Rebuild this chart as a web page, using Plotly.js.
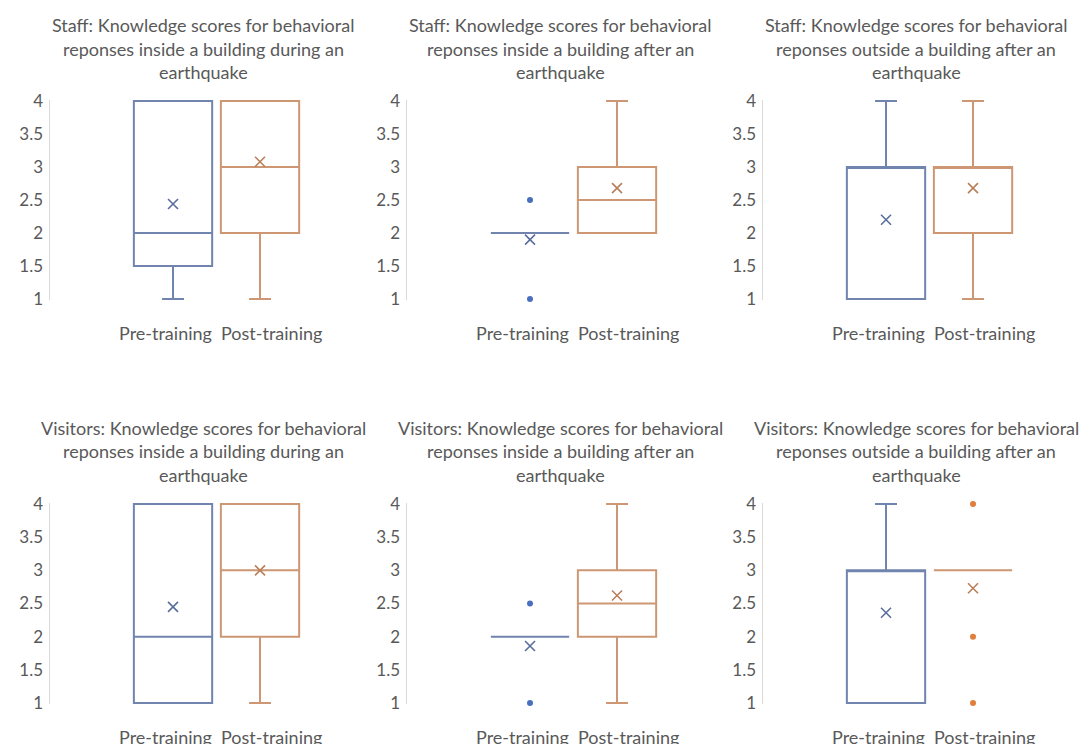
<!DOCTYPE html>
<html>
<head>
<meta charset="utf-8">
<script src="https://cdn.plot.ly/plotly-3.0.1.min.js"></script>
<style>
  html, body { margin: 0; padding: 0; background: #ffffff; }
  #chart { width: 1081px; height: 744px; }
</style>
</head>
<body>
<div id="chart"></div>
<script>
// ---------------- DATA ----------------
const categories = ['Pre-training', 'Post-training'];

const titles = [
  'Staff: Knowledge scores for behavioral<br>reponses inside a building during an<br>earthquake',
  'Staff: Knowledge scores for behavioral<br>reponses inside a building after an<br>earthquake',
  'Staff: Knowledge scores for behavioral<br>reponses outside a building after an<br>earthquake',
  'Visitors: Knowledge scores for behavioral<br>reponses inside a building during an<br>earthquake',
  'Visitors: Knowledge scores for behavioral<br>reponses inside a building after an<br>earthquake',
  'Visitors: Knowledge scores for behavioral<br>reponses outside a building after an<br>earthquake'
];

const yTickValues = [1, 1.5, 2, 2.5, 3, 3.5, 4];
const yTickLabels = ['1', '1.5', '2', '2.5', '3', '3.5', '4'];

// Pre-training box statistics (one entry per panel)
const preLower    = [1,    2,   1,   1,    2,    1];
const preQ1       = [1.5,  2,   1,   1,    2,    1];
const preMedian   = [2,    2,   3,   2,    2,    3];
const preQ3       = [4,    2,   3,   4,    2,    3];
const preUpper    = [4,    2,   4,   4,    2,    4];
const preMean     = [2.44, 1.9, 2.2, 2.45, 1.86, 2.36];
const preOutliers = [[], [2.5, 1], [], [], [2.5, 1], []];

// Post-training box statistics (one entry per panel)
const postLower    = [1,    2,    1,    1,   1,    3];
const postQ1       = [2,    2,    2,    2,   2,    3];
const postMedian   = [3,    2.5,  3,    3,   2.5,  3];
const postQ3       = [4,    3,    3,    4,   3,    3];
const postUpper    = [4,    4,    4,    4,   4,    3];
const postMean     = [3.08, 2.68, 2.68, 3.0, 2.62, 2.73];
const postOutliers = [[], [], [], [], [], [4, 2, 1]];

// ---------------- STYLE / LAYOUT ----------------
const W = 1081, H = 744;
const FONT = 'Lato, "Open Sans", sans-serif';
const TEXT = '#595959';
const BLUE = '#7084AE', BLUE_MEAN = '#5A6E9C', BLUE_DOT = '#4A6FBF';
const ORANGE = '#CD9774', ORANGE_MEAN = '#B97F5B', ORANGE_DOT = '#E07E3C';

const axisLeftPx = [50, 407, 763];
const rowTopPx = [101, 504];     // pixel of y = 4
const rowBotPx = [299, 703];     // pixel of y = 1
const xRange = [-1.414, 1.6];
const unitPx = 87;               // px per category step
const yPad = 0.02;

const traces = [];
const layout = {
  width: W, height: H,
  margin: {l: 0, r: 0, t: 0, b: 0},
  paper_bgcolor: '#ffffff', plot_bgcolor: 'rgba(0,0,0,0)',
  showlegend: false,
  font: {family: FONT, color: TEXT, size: 16},
  annotations: []
};

for (let i = 0; i < 6; i++) {
  const row = Math.floor(i / 3), col = i % 3;
  const sfx = i === 0 ? '' : String(i + 1);
  const xa = 'x' + sfx, ya = 'y' + sfx;
  const left = axisLeftPx[col];
  const right = left + (xRange[1] - xRange[0]) * unitPx;
  const top = rowTopPx[row], bot = rowBotPx[row];
  const pxPerUnit = (bot - top) / 3;
  const dTop = top - yPad * pxPerUnit, dBot = bot + yPad * pxPerUnit;

  layout['xaxis' + sfx] = {
    domain: [left / W, right / W],
    anchor: ya, type: 'category', categoryarray: categories,
    range: xRange, showticklabels: false, showgrid: false,
    zeroline: false, showline: false, fixedrange: true
  };
  layout['yaxis' + sfx] = {
    domain: [1 - dBot / H, 1 - dTop / H],
    anchor: xa, range: [1 - yPad, 4 + yPad],
    tickmode: 'array', tickvals: yTickValues, ticktext: yTickLabels,
    showgrid: false, zeroline: false, showline: true,
    linecolor: '#D9D9D9', linewidth: 1.5, ticks: '',
    ticklabelstandoff: 2,
    tickfont: {family: FONT, size: 17, color: TEXT}
  };

  const groups = [
    {name: categories[0], lo: preLower, q1: preQ1, med: preMedian, q3: preQ3, hi: preUpper,
     mean: preMean, out: preOutliers, c: BLUE, cm: BLUE_MEAN, cd: BLUE_DOT},
    {name: categories[1], lo: postLower, q1: postQ1, med: postMedian, q3: postQ3, hi: postUpper,
     mean: postMean, out: postOutliers, c: ORANGE, cm: ORANGE_MEAN, cd: ORANGE_DOT}
  ];

  groups.forEach(g => {
    traces.push({
      type: 'box', xaxis: xa, yaxis: ya,
      x: [g.name], q1: [g.q1[i]], median: [g.med[i]], q3: [g.q3[i]],
      lowerfence: [g.lo[i]], upperfence: [g.hi[i]],
      width: 0.9, whiskerwidth: 0.28, boxpoints: false,
      line: {color: g.c, width: 2}, fillcolor: 'rgba(255,255,255,0)',
      hoverinfo: 'skip'
    });
    traces.push({
      type: 'scatter', mode: 'markers', xaxis: xa, yaxis: ya,
      x: [g.name], y: [g.mean[i]], cliponaxis: false,
      marker: {symbol: 'x-thin-open', size: 10, color: g.cm, line: {color: g.cm, width: 1.6}},
      hoverinfo: 'skip'
    });
    if (g.out[i].length) {
      traces.push({
        type: 'scatter', mode: 'markers', xaxis: xa, yaxis: ya,
        x: g.out[i].map(() => g.name), y: g.out[i], cliponaxis: false,
        marker: {symbol: 'circle', size: 6, color: g.cd},
        hoverinfo: 'skip'
      });
    }
  });

  // title lines
  const lines = titles[i].split('<br>');
  const lineOffsets = [-76, -52.5, -29];
  lines.forEach((ln, k) => {
    layout.annotations.push({
      xref: 'paper', yref: 'paper',
      x: (left + 153) / W, y: 1 - (top + lineOffsets[k]) / H,
      xanchor: 'center', yanchor: 'middle', showarrow: false,
      text: ln, font: {family: FONT, size: 18, color: TEXT}
    });
  });

  // category labels
  const labelOffsets = [115, 221];
  categories.forEach((cat, k) => {
    layout.annotations.push({
      xref: 'paper', yref: 'paper',
      x: (left + labelOffsets[k]) / W, y: 1 - (bot + 34) / H,
      xanchor: 'center', yanchor: 'middle', showarrow: false,
      text: cat, font: {family: FONT, size: 18, color: TEXT}
    });
  });
}

Plotly.newPlot('chart', traces, layout, {displayModeBar: false, staticPlot: true});
</script>
</body>
</html>
